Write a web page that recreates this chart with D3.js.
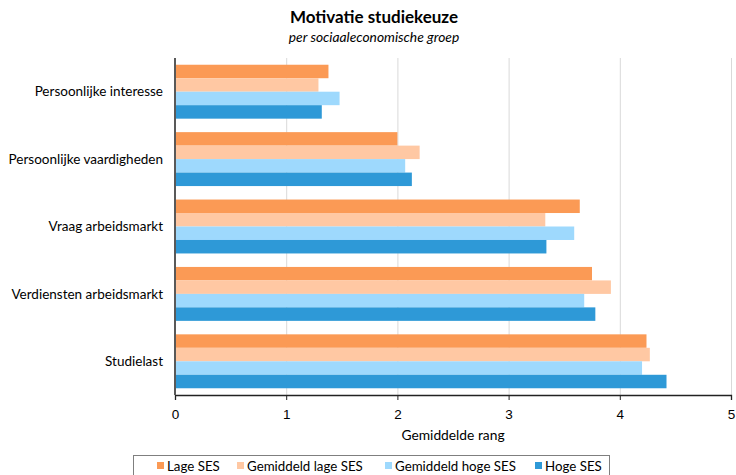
<!DOCTYPE html>
<html>
<head>
<meta charset="utf-8">
<script src="https://cdn.jsdelivr.net/npm/d3@7"></script>
<style>
  body { margin: 0; background: #fff; }
  svg { font-family: Lato, "Open Sans", sans-serif; }
</style>
</head>
<body>
<svg id="chart" width="736" height="475"></svg>
<script>
// motivations, top to bottom
var categories = ["Persoonlijke interesse", "Persoonlijke vaardigheden", "Vraag arbeidsmarkt", "Verdiensten arbeidsmarkt", "Studielast"];
var seriesNames = ["Lage SES", "Gemiddeld lage SES", "Gemiddeld hoge SES", "Hoge SES"];
var lageSES = [1.38, 2.00, 3.64, 3.75, 4.24];
var gemLageSES = [1.29, 2.20, 3.33, 3.92, 4.27];
var gemHogeSES = [1.48, 2.07, 3.59, 3.68, 4.20];
var hogeSES = [1.32, 2.13, 3.34, 3.78, 4.42];
var xTicks = [0, 1, 2, 3, 4, 5];

var colors = ["#fb9a55", "#ffc8a3", "#9ed9fd", "#2e99d7"];
var seriesValues = [lageSES, gemLageSES, gemHogeSES, hogeSES];

var margin = {top: 58, right: 5, bottom: 80, left: 175}
  , width = 736 - margin.left - margin.right
  , height = 475 - margin.top - margin.bottom;

var svg = d3.select("#chart");

// titles
svg.append("text")
  .attr("x", 374).attr("y", 23)
  .attr("text-anchor", "middle")
  .style("font-size", "17px").style("font-weight", "bold")
  .text("Motivatie studiekeuze");
svg.append("text")
  .attr("x", 374).attr("y", 42)
  .attr("text-anchor", "middle")
  .style("font-size", "13.8px").style("font-style", "italic")
  .text("per sociaaleconomische groep");

var g = svg.append("g").attr("transform", "translate(" + margin.left + "," + margin.top + ")");

var x = d3.scaleLinear().domain([0, 5]).range([0, width]);
var y0 = d3.scaleBand().domain(categories).range([0, height]).paddingInner(0.2).paddingOuter(0.1);
var y1 = d3.scaleBand().domain(seriesNames).range([0, y0.bandwidth()]);

// gridlines
g.selectAll(".grid")
  .data(xTicks.slice(1))
  .enter().append("line")
  .attr("x1", d => x(d) + 0.5).attr("x2", d => x(d) + 0.5)
  .attr("y1", 0).attr("y2", height)
  .attr("stroke", "#d9d9d9").attr("stroke-width", 1);

// bars
var groups = g.selectAll(".grp")
  .data(categories)
  .enter().append("g")
  .attr("transform", d => "translate(0," + y0(d) + ")");

groups.selectAll("rect")
  .data((c, i) => seriesNames.map((s, j) => ({s: s, v: seriesValues[j][i], c: colors[j]})))
  .enter().append("rect")
  .attr("x", 0)
  .attr("y", d => y1(d.s))
  .attr("width", d => x(d.v))
  .attr("height", y1.bandwidth())
  .attr("fill", d => d.c);

// x axis
var xAxis = g.append("g")
  .attr("transform", "translate(0," + height + ")")
  .call(d3.axisBottom(x).tickValues(xTicks).tickSize(5).tickFormat(d3.format("d")));
xAxis.select(".domain").attr("stroke", "#222").attr("stroke-width", 1.3);
xAxis.selectAll(".tick line").attr("stroke", "#222");
xAxis.selectAll("text").style("font-size", "13.5px").attr("fill", "#000").attr("dy", "1.15em");

// y axis line
g.append("line")
  .attr("x1", 0).attr("x2", 0).attr("y1", 0).attr("y2", height)
  .attr("stroke", "#595959").attr("stroke-width", 2);

// category labels
g.selectAll(".cat")
  .data(categories)
  .enter().append("text")
  .attr("x", -12)
  .attr("y", d => y0(d) + y0.bandwidth() / 2)
  .attr("dy", "0.35em")
  .attr("text-anchor", "end")
  .style("font-size", "13.5px")
  .text(d => d);

svg.append("text")
  .attr("x", 453).attr("y", 440)
  .attr("text-anchor", "middle")
  .style("font-size", "13.8px")
  .text("Gemiddelde rang");

// legend
var legend = svg.append("g");
legend.append("rect")
  .attr("x", 133.5).attr("y", 455.5).attr("width", 476).attr("height", 25)
  .attr("fill", "none").attr("stroke", "#7f7f7f");
var legendX = [157, 237, 385, 535];
seriesNames.forEach(function(s, i){
  legend.append("rect")
    .attr("x", legendX[i]).attr("y", 462).attr("width", 7).attr("height", 7)
    .attr("fill", colors[i]);
  legend.append("text")
    .attr("x", legendX[i] + 10).attr("y", 466)
    .attr("dy", "0.35em")
    .style("font-size", "13.3px")
    .text(s);
});
</script>
</body>
</html>
